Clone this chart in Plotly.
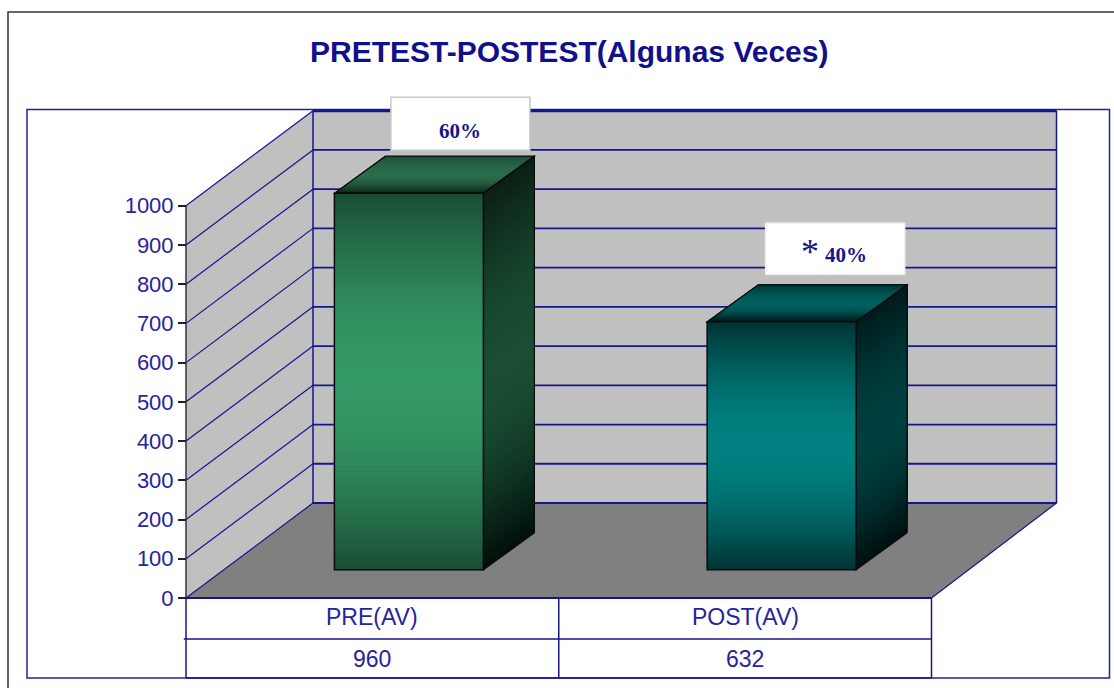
import numpy as np
import plotly.graph_objects as go

# ---- data ----
categories = ["PRE(AV)", "POST(AV)"]
values = [960, 632]
percent_labels = ["60%", "40%"]
percent_marks = ["", "*"]
y_ticks = [0, 100, 200, 300, 400, 500, 600, 700, 800, 900, 1000]
title_text = "PRETEST-POSTEST(Algunas Veces)"

# ---- styles ----
W, H = 1114, 688
PX_PER_CAT = 372.75
PX_PER_VAL = 0.3923
X0_PX, Y0_PX = 186, 598
NAVY = "#14148f"
TEXT = "#24249c"
SANS = "Liberation Sans"
SERIF = "Liberation Serif"

DX, DY = 127 / PX_PER_CAT, 95 / PX_PER_VAL     # depth of the floor
BDX, BDY = 51 / PX_PER_CAT, 37 / PX_PER_VAL    # depth of a bar
BAR_SHIFT, BAR_BASE = 0.098, 72                # bar position in the depth
BAR_W = 149 / PX_PER_CAT
LEFT, RIGHT = -0.5, 1.5

FRONT = [("#1a4d33", "#339966", "#164a30"), ("#003333", "#008080", "#003c3c")]
SIDE = [("#0a1f14", "#1a4d33", "#00100a"), ("#001a1a", "#003f3f", "#000f0f")]
TOP = [("#0c2418", "#2a6b4a", "#1d4f36"), ("#001515", "#006060", "#003333")]
BOX = [(26 / PX_PER_CAT, 15, 139, 53, "#c8c8c8"), (28 / PX_PER_CAT, 27, 139, 51, "#f2f2f2")]


def mix(a, b, t):
    ca = [int(a[i:i + 2], 16) for i in (1, 3, 5)]
    cb = [int(b[i:i + 2], 16) for i in (1, 3, 5)]
    return "rgb(%d,%d,%d)" % tuple(round(p + (q - p) * t) for p, q in zip(ca, cb))


def soften(s):
    return 1 - np.cos(np.pi * s / 2)


def ramp(stops, t):
    if t < .5:
        return mix(stops[1], stops[0], soften(1 - t * 2))
    return mix(stops[1], stops[2], soften(t * 2 - 1))


def poly(pts, fill=None, line=None, lw=1, layer="below"):
    path = "M" + " L".join(f"{x:.5f},{y:.3f}" for x, y in pts) + " Z"
    return dict(type="path", path=path, xref="x", yref="y", layer=layer,
                fillcolor=fill or "rgba(0,0,0,0)",
                line=dict(color=line or "rgba(0,0,0,0)", width=lw if line else 0))


def seg(x0, y0, x1, y1, color=NAVY, lw=1.5, layer="below"):
    return dict(type="line", xref="x", yref="y", x0=x0, y0=y0, x1=x1, y1=y1,
                layer=layer, line=dict(color=color, width=lw))


def frame(x0, y0, x1, y1, color, lw, fill="rgba(0,0,0,0)"):
    return dict(type="rect", xref="paper", yref="paper", layer="below",
                x0=x0 / W, x1=x1 / W, y0=1 - y0 / H, y1=1 - y1 / H,
                fillcolor=fill, line=dict(color=color, width=lw))


# axis ranges so the whole page is the plotting area
x_range = [LEFT - X0_PX / PX_PER_CAT, LEFT + (W - X0_PX) / PX_PER_CAT]
y_range = [(Y0_PX - H) / PX_PER_VAL, Y0_PX / PX_PER_VAL]
BACK_R = RIGHT + DX - 2 / PX_PER_CAT
TOPV = max(y_ticks)

shapes = [
    frame(8, 12, W + 20, H + 20, "#333333", 1.5, "white"),
    frame(27, 109.5, 1109.5, 678, "#2020a0", 1.5, "white"),
    # walls and floor
    poly([(LEFT + DX, DY), (BACK_R, DY), (BACK_R, DY + TOPV), (LEFT + DX, DY + TOPV)], "#c0c0c0"),
    poly([(LEFT, 0), (LEFT + DX, DY), (LEFT + DX, DY + TOPV), (LEFT, TOPV)], "#c0c0c0"),
    poly([(LEFT, 0), (LEFT + DX, DY), (BACK_R, DY), (RIGHT, 0)], "#808080"),
]
for v in y_ticks:
    lw = 3 if v == TOPV else 1.8
    shapes.append(seg(LEFT + DX, DY + v, BACK_R, DY + v, lw=lw))
    shapes.append(seg(LEFT, v, LEFT + DX, DY + v, lw=1.2))
shapes += [
    seg(LEFT + DX, DY, LEFT + DX, DY + TOPV),
    seg(BACK_R, DY, BACK_R, DY + TOPV),
    seg(RIGHT, 0, BACK_R, DY, lw=1.2),
    seg(LEFT, 0, LEFT, TOPV, color="#333333", lw=1.5),
]

# data table below the chart
ROW1, ROW2 = -41 / PX_PER_VAL, -80 / PX_PER_VAL
shapes += [seg(LEFT, 0, RIGHT, 0, lw=2), seg(LEFT - 0.006, ROW1, RIGHT, ROW1), seg(LEFT, ROW2, RIGHT, ROW2)]
for xv in (LEFT, LEFT + (RIGHT - LEFT) / 2, RIGHT):
    shapes.append(seg(xv, 0, xv, ROW2))

traces = []
annotations = [dict(text=f"<b>{title_text}</b>", xref="paper", yref="paper", x=569 / W, y=1 - 51 / H,
                    showarrow=False, xanchor="center", yanchor="middle",
                    font=dict(family=SANS, size=30, color="#10108a"))]

N = 80
for i, (cat, val) in enumerate(zip(categories, values)):
    xc = i + BAR_SHIFT
    xl, xr = xc - BAR_W / 2, xc + BAR_W / 2
    y0, y1 = BAR_BASE, BAR_BASE + val

    # front face gradient (heatmap sits below the outlined bar)
    edges = np.linspace(y0, y1, N + 1)
    shade = soften(np.abs((edges[:-1] + edges[1:]) / 2 - (y0 + y1) / 2) / ((y1 - y0) / 2))
    scale = [[0, FRONT[i][1]], [1, FRONT[i][0]]]
    traces.append(go.Heatmap(x=[xl, xr], y=edges, z=shade[:, None], colorscale=scale, zmin=0, zmax=1,
                             showscale=False, hoverinfo="skip"))

    # side face, painted bottom to top in sheared bands
    for k in range(N):
        v = y0 + (y1 - y0) * k / N
        shapes.append(poly([(xr, v), (xr + BDX, v + BDY), (xr + BDX, y1 + BDY), (xr, y1)],
                           ramp(SIDE[i], 1 - (k + .5) / N)))
    # top face, painted front to back
    for k in range(24):
        t = k / 24
        shapes.append(poly([(xl + BDX * t, y1 + BDY * t), (xr + BDX * t, y1 + BDY * t),
                            (xr + BDX, y1 + BDY), (xl + BDX, y1 + BDY)],
                           ramp(TOP[i], (k + .5) / 24)))
    # outlines of the 3D faces
    shapes.append(poly([(xr, y0), (xr + BDX, y0 + BDY), (xr + BDX, y1 + BDY), (xr, y1)], None, "#0a0a0a", 1.2))
    shapes.append(poly([(xl, y1), (xl + BDX, y1 + BDY), (xr + BDX, y1 + BDY), (xr, y1)], None, "#0a0a0a", 1.2))

    # label box and text
    ox, gap, bw, bh, bc = BOX[i]
    cx = xc + BDX / 2 + ox
    hw = bw / 2 / PX_PER_CAT
    by0 = y1 + BDY + gap
    by1 = by0 + bh / PX_PER_VAL
    shapes.append(dict(type="rect", xref="x", yref="y", x0=cx - hw, x1=cx + hw, y0=by0, y1=by1, layer="above",
                       fillcolor="white", line=dict(color=bc, width=1.5)))
    annotations.append(dict(text=f"<b>{percent_labels[i]}</b>", x=cx, y=by0 + 19 / PX_PER_VAL,
                            xref="x", yref="y", showarrow=False, xanchor="center", yanchor="middle",
                            xshift=0 if not percent_marks[i] else 11,
                            font=dict(family=SERIF, size=21, color="#14148f")))
    if percent_marks[i]:
        annotations.append(dict(text=percent_marks[i], x=cx, y=by0 + 22 / PX_PER_VAL, xref="x", yref="y",
                                showarrow=False, xanchor="center", yanchor="middle", xshift=-25,
                                font=dict(family=SERIF, size=36, color="#14148f")))

    # data table text
    for txt, row in ((cat, -19 / PX_PER_VAL), (str(val), -61 / PX_PER_VAL)):
        annotations.append(dict(text=txt, x=i, y=row, xref="x", yref="y", showarrow=False,
                                xanchor="center", yanchor="middle", font=dict(family=SANS, size=23, color=TEXT)))

traces.append(go.Bar(x=[i + BAR_SHIFT for i in range(len(values))], y=values, base=BAR_BASE, width=BAR_W,
                     marker=dict(color="rgba(0,0,0,0)", line=dict(color="#0a0a0a", width=1.5)),
                     hoverinfo="skip", showlegend=False))

fig = go.Figure(traces)
fig.update_layout(
    width=W, height=H, margin=dict(l=0, r=0, t=0, b=0), paper_bgcolor="white", plot_bgcolor="white",
    showlegend=False, shapes=shapes, annotations=annotations,
    xaxis=dict(range=x_range, visible=False, fixedrange=True),
    yaxis=dict(range=y_range, anchor="free", position=X0_PX / W, tickmode="array", tickvals=y_ticks,
               showgrid=False, zeroline=False, showline=False, ticks="outside", ticklen=8, tickwidth=1.5,
               tickcolor="#222222", tickfont=dict(family=SANS, size=22, color=TEXT), fixedrange=True),
)
fig.write_html("out.html", config=dict(displayModeBar=False),
               post_script="document.body.style.margin='0';document.documentElement.style.overflow='hidden';")
